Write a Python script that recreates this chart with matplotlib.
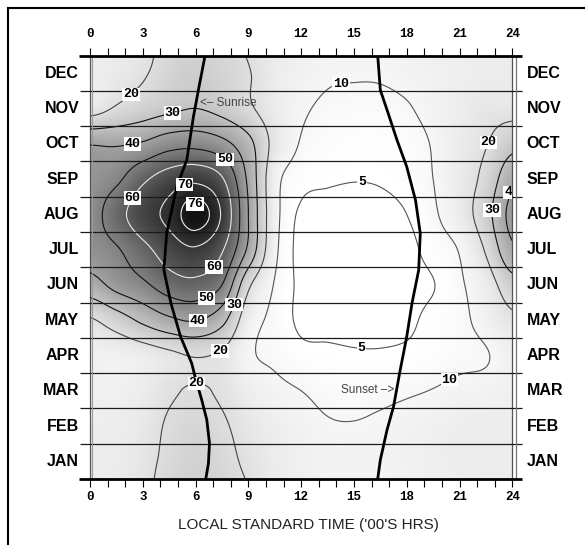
import numpy as np
import matplotlib
matplotlib.use('Agg')
import matplotlib.pyplot as plt
from matplotlib.colors import LinearSegmentedColormap, PowerNorm
from matplotlib.lines import Line2D

plt.rcParams['font.family'] = 'Liberation Mono'
plt.rcParams['font.weight'] = 'bold'

months = ['JAN', 'FEB', 'MAR', 'APR', 'MAY', 'JUN',
          'JUL', 'AUG', 'SEP', 'OCT', 'NOV', 'DEC']

# frequency (%) by hour, one row per month (values at mid-month)
hours = [0, 1.5, 3, 4.5, 6, 7.5, 9, 10.5, 12, 13.5, 15, 16.5, 18, 19.5, 21, 22.5, 24]
freq_jan = [14.5, 15, 17.5, 22, 24.5, 22.5, 18.5, 15, 13, 12, 12, 12, 12.5, 13.5, 14.5, 15, 14.5]
freq_feb = [14, 14.5, 16.5, 21, 23, 21, 17, 14, 12, 10.5, 10.3, 11, 12, 13, 14, 14.5, 14]
freq_mar = [13, 13, 15, 19, 20.5, 19, 14, 11.5, 10, 8.5, 8, 8.5, 9.3, 10.2, 11.5, 12, 13]
freq_apr = [13, 13, 15, 18, 20.5, 18.5, 11, 9, 6.5, 6, 5.5, 5.5, 6, 7, 8.5, 9.6, 13]
freq_may = [19, 25, 32, 38, 40.5, 33, 14, 8.5, 4, 3.5, 3.5, 3.5, 4, 6.5, 8.5, 12.5, 18]
freq_jun = [36, 43, 48, 55, 57, 50, 22, 9.5, 4, 2.5, 2.5, 3, 3.5, 4.8, 9, 15, 26]
freq_jul = [45, 49, 57, 65, 69, 61, 38, 12, 3.5, 2, 2, 2, 3.5, 7, 10.5, 21, 38]
freq_aug = [46, 56, 66, 72, 79, 69, 40, 13, 4, 2.5, 2.5, 3, 5, 9, 15, 26, 43]
freq_sep = [44, 48, 58, 65, 68, 61, 38, 13, 7, 5.8, 5.2, 5.5, 7, 10, 15, 23, 37]
freq_oct = [39.5, 39, 41, 46, 47, 43, 33, 17, 9.5, 7.5, 6.5, 6.5, 7.5, 10.5, 15, 19.5, 27]
freq_nov = [16, 21, 25, 28, 30, 27, 21.5, 15, 11, 9, 8.5, 8.5, 9.5, 12, 14.5, 17, 17]
freq_dec = [14, 16, 19, 24, 26, 24, 20.5, 15, 12.5, 10.8, 10.5, 10.6, 11.5, 12.5, 13.5, 14.5, 15]

contour_levels = [5, 10, 20, 30, 40, 50, 60, 70, 76]
label_spots = {
    5: [(15.45, 8.43), (15.45, 3.8)],
    10: [(14.3, 11.13), (20.6, 2.66)],
    20: [(2.2, 10.97), (7.28, 3.7), (6.05, 2.6), (22.85, 9.5)],
    30: [(4.72, 10.31), (8.23, 4.93), (22.85, 7.62)],
    40: [(2.45, 9.42), (6.05, 4.65), (23.75, 8.2)],
    50: [(7.66, 9.04), (6.52, 5.26)],
    60: [(2.26, 8.02), (6.8, 6.11)],
    70: [(5.39, 8.33)],
    76: [(6.0, 7.78)],
}

# sunrise / sunset times (hour) against month position
sunrise_m = [0, 0.44, 1.01, 1.67, 2.24, 2.9, 3.28, 4.03, 4.98, 5.92, 6.97, 8.28, 9.04, 10.27, 11.02, 12]
sunrise_h = [6.58, 6.73, 6.79, 6.64, 6.35, 5.97, 5.78, 5.15, 4.6, 4.2, 4.36, 4.93, 5.5, 5.88, 6.16, 6.54]
sunset_m = [0, 0.54, 1.39, 2.05, 3.09, 4.03, 4.98, 5.92, 6.96, 7.9, 8.85, 9.6, 10.46, 11.02, 12]
sunset_h = [16.35, 16.5, 16.88, 17.25, 17.63, 18.0, 18.3, 18.68, 18.77, 18.5, 18.0, 17.45, 16.88, 16.5, 16.35]

freq = np.array([freq_jan, freq_feb, freq_mar, freq_apr, freq_may, freq_jun,
                 freq_jul, freq_aug, freq_sep, freq_oct, freq_nov, freq_dec])


def cr_resample(arr, pos, axis, wrap):
    # Catmull-Rom resampling along one axis, pos in node-index units
    n = arr.shape[axis]
    i = np.floor(pos).astype(int)
    f = pos - i
    ws = [(-f**3 + 2*f**2 - f) / 2, (3*f**3 - 5*f**2 + 2) / 2,
          (-3*f**3 + 4*f**2 + f) / 2, (f**3 - f**2) / 2]
    out = 0
    for k, w in zip(range(-1, 3), ws):
        idx = i + k
        idx = idx % n if wrap else np.clip(idx, 0, n - 1)
        part = np.take(arr, idx, axis=axis)
        shape = [1] * arr.ndim
        shape[axis] = -1
        out = out + part * w.reshape(shape)
    return out


hf = np.linspace(0, 24, 481)
mf = np.linspace(0, 12, 481)
Z = cr_resample(freq, hf / (hours[1] - hours[0]), axis=1, wrap=False)
Z = cr_resample(Z, mf - 0.5, axis=0, wrap=True)

fig = plt.figure(figsize=(5.85, 5.45), dpi=100)
ax = fig.add_axes([90 / 585, 66 / 545, 422.3 / 585, 423.5 / 545])

cmap = LinearSegmentedColormap.from_list('fog', ['#ffffff', '#0e0e0e'])
norm = PowerNorm(gamma=1.25, vmin=5, vmax=80)
ax.imshow(Z, extent=[0, 24, 0, 12], origin='lower', aspect='auto',
          cmap=cmap, norm=norm, interpolation='bilinear', zorder=0)
ax.set_xlim(0, 24)
ax.set_ylim(0, 12)

line_cols = {5: '#555555', 10: '#555555', 20: '#444444', 30: '#111111',
             40: '#111111', 50: '#111111', 60: '#e8e8e8', 70: '#e8e8e8', 76: '#f0f0f0'}
for lev in contour_levels:
    cs = ax.contour(hf, mf, Z, levels=[lev], colors=line_cols[lev],
                    linewidths=0.8, zorder=3)
    txts = ax.clabel(cs, manual=label_spots[lev], inline=False, fmt='%d',
                     fontsize=9.5, colors='black')
    for t in txts:
        t.set_rotation(0)
        t.set_bbox(dict(facecolor='white', edgecolor='none', pad=0.6))
        t.set_zorder(10)
        if lev == 76:
            t.set_position((5.97, 7.8))

# month divisions, extending past the frame
ax.hlines(np.arange(1, 12), -0.55, 24.55, colors='#1a1a1a', linewidth=0.9,
          clip_on=False, zorder=4)
ax.hlines([0, 12], -0.6, 24.55, colors='black', linewidth=2.0,
          clip_on=False, zorder=6)

ax.plot(sunrise_h, sunrise_m, color='black', linewidth=2.0, zorder=5)
ax.plot(sunset_h, sunset_m, color='black', linewidth=2.0, zorder=5)
ax.text(6.25, 10.66, '<\u2013 Sunrise', fontsize=8.5, color='#444444',
        family=['Liberation Sans', 'DejaVu Sans'], weight='normal',
        ha='left', va='center', zorder=7)
ax.text(17.3, 2.52, 'Sunset \u2013>', fontsize=8.5, color='#444444',
        family=['Liberation Sans', 'DejaVu Sans'], weight='normal',
        ha='right', va='center', zorder=7)

for i, name in enumerate(months):
    ax.text(-0.62, i + 0.5, name, ha='right', va='center', fontsize=11.5,
            family='Liberation Sans', weight='bold', clip_on=False)
    ax.text(24.8, i + 0.5, name, ha='left', va='center', fontsize=11.5,
            family='Liberation Sans', weight='bold', clip_on=False)

for side in ['top', 'bottom']:
    ax.spines[side].set_visible(False)
for side in ['left', 'right']:
    ax.spines[side].set_color('#555555')
    ax.spines[side].set_linewidth(0.9)
ax.plot([0.12, 0.12], [0, 12], color='#999999', linewidth=0.8, zorder=4)
ax.plot([24.2, 24.2], [0, 12], color='#777777', linewidth=0.9, clip_on=False, zorder=4)

ax.set_yticks([])
ax.set_xticks(range(0, 25, 3))
ax.set_xticks(range(0, 25), minor=True)
ax.tick_params(axis='x', which='both', direction='out', length=5.4, width=0.8,
               pad=3, labelsize=9, bottom=True, top=False)

top = ax.secondary_xaxis('top')
top.set_xticks(range(0, 25, 3))
top.set_xticks(range(0, 25), minor=True)
top.tick_params(axis='x', which='both', direction='out', length=5.4, width=0.8,
                pad=5.4, labelsize=9)
top.spines['top'].set_visible(False)

fig.text(308 / 585, 1 - 525 / 545, "LOCAL STANDARD TIME ('00'S HRS)",
         ha='center', va='center', fontsize=11, family='Liberation Sans',
         weight='normal', color='#222222')

# outer frame edges
fig.add_artist(Line2D([8 / 585, 8 / 585], [0, 1 - 8 / 545], color='black', linewidth=1.5))
fig.add_artist(Line2D([8 / 585, 1], [1 - 8 / 545, 1 - 8 / 545], color='black', linewidth=1.5))

fig.savefig('out.png', dpi=100)
